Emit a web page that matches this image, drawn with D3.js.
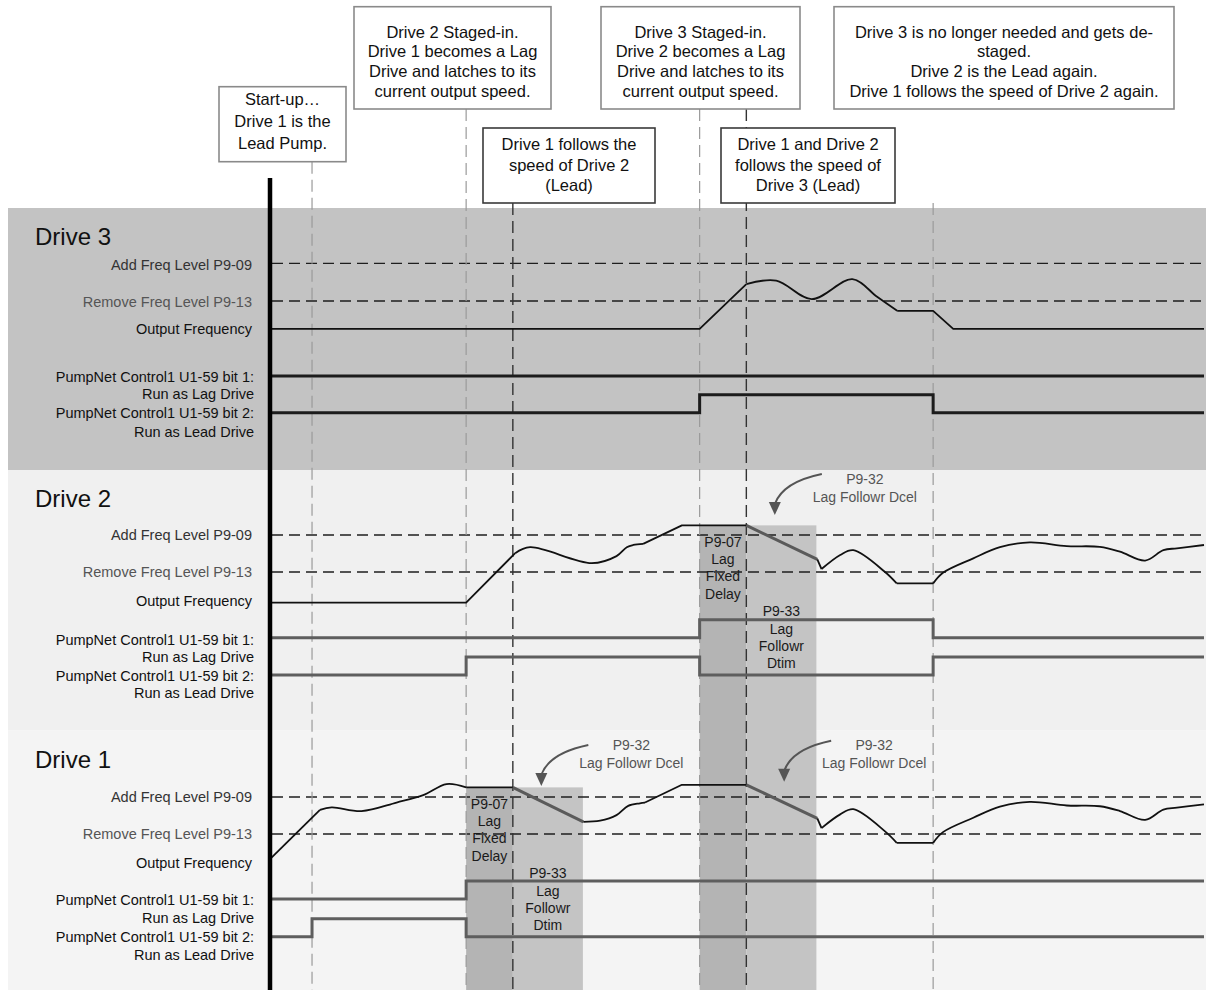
<!DOCTYPE html>
<html>
<head>
<meta charset="utf-8">
<script src="https://cdn.jsdelivr.net/npm/d3@7"></script>
<style>
  body { margin: 0; background: #fff; }
  text { font-family: "Liberation Sans", Arial, sans-serif; }
</style>
</head>
<body>
<div id="chart"></div>
<script>
// time axis in seconds, frequency in Hz
const ADD_HZ = 50, REMOVE_HZ = 40;
const FIXED_DELAY = 10, FOLLOW_DTIM = 15;

// event times and the note box each one hangs from
const eventTimes = [9, 42, 52, 92, 102, 142];
const eventDark = [false, false, true, false, true, false];

const noteLines = [
  ["Start-up\u2026", "Drive 1 is the", "Lead Pump."],
  ["Drive 2 Staged-in.", "Drive 1 becomes a Lag", "Drive and latches to its", "current output speed."],
  ["Drive 1 follows the", "speed of Drive 2", "(Lead)"],
  ["Drive 3 Staged-in.", "Drive 2 becomes a Lag", "Drive and latches to its", "current output speed."],
  ["Drive 3 is no longer needed and gets de-", "staged.", "Drive 2 is the Lead again.", "Drive 1 follows the speed of Drive 2 again."],
  ["Drive 1 and Drive 2", "follows the speed of", "Drive 3 (Lead)"]
];

const rowLabels = ["Add Freq Level P9-09", "Remove Freq Level P9-13", "Output Frequency",
  "PumpNet Control1 U1-59 bit 1:", "Run as Lag Drive", "PumpNet Control1 U1-59 bit 2:", "Run as Lead Drive"];

// output frequency, pieces of [t, Hz]
const drive3Freq = [
  { c: "line", pts: [[0, 32.6], [92, 32.6], [102, 44.5]] },
  { c: "smooth", pts: [[102, 44.5], [108.4, 45.4], [116.0, 40.5], [124.7, 45.8], [130.0, 41.1], [134.3, 37.4]] },
  { c: "line", pts: [[134.3, 37.4], [142, 37.4], [146.3, 32.6], [200, 32.6]] }
];
const drive2Freq = [
  { c: "line", pts: [[0, 31.7], [42, 31.7], [52.5, 45.1]] },
  { c: "smooth", pts: [[52.5, 45.1], [55.7, 46.7], [68.9, 42.4], [74.2, 44.3], [76.4, 46.7], [77.8, 47.3], [79.9, 47.6]] },
  { c: "line", pts: [[79.9, 47.6], [88.2, 52.6], [102, 52.6]] },
  { c: "dcel", pts: [[102, 52.6], [117.2, 43.4]] },
  { c: "line", pts: [[117.2, 43.4], [118.1, 40.8]] },
  { c: "smooth", pts: [[118.1, 40.8], [122.1, 44.6], [124.9, 45.9], [131.7, 40.0], [134.2, 36.9]] },
  { c: "line", pts: [[134.2, 36.9], [142, 36.9]] },
  { c: "smooth", pts: [[142, 36.9], [144.1, 39.8], [150.6, 43.7], [156.3, 46.7], [162.7, 48.0], [170.6, 47.0],
      [177.7, 46.8], [182.0, 45.5], [187.4, 43.1], [191.3, 45.9], [194.2, 46.4], [200, 47.3]] }
];
const drive1Freq = [
  { c: "line", pts: [[0, 33.2], [10.7, 46.5]] },
  { c: "smooth", pts: [[10.7, 46.5], [13.2, 47.2], [19.6, 46.2], [27.1, 48.5], [32.8, 50.5], [37.8, 53.5], [42, 52.6]] },
  { c: "line", pts: [[42, 52.6], [52, 52.6]] },
  { c: "dcel", pts: [[52, 52.6], [67.1, 43.3]] },
  { c: "smooth", pts: [[67.1, 43.3], [70.7, 43.6], [74.2, 45.1], [76.7, 47.6], [79.2, 48.3], [80.3, 48.5]] },
  { c: "line", pts: [[80.3, 48.5], [88.2, 53.3], [102, 53.3]] },
  { c: "dcel", pts: [[102, 53.3], [117.2, 44.2]] },
  { c: "line", pts: [[117.2, 44.2], [118.1, 41.6]] },
  { c: "smooth", pts: [[118.1, 41.6], [122.1, 45.3], [124.9, 46.7], [131.7, 40.7], [134.2, 37.6]] },
  { c: "line", pts: [[134.2, 37.6], [142, 37.6]] },
  { c: "smooth", pts: [[142, 37.6], [144.1, 40.5], [150.6, 44.4], [156.3, 47.4], [162.7, 48.7], [170.6, 47.7],
      [177.7, 47.5], [182.0, 46.2], [187.4, 43.8], [191.3, 46.6], [194.2, 47.1], [200, 48.0]] }
];

// status bits, [t, 0/1]
const drive3Bit1 = [[0, 0], [200, 0]];
const drive3Bit2 = [[0, 0], [92, 1], [142, 0], [200, 0]];
const drive2Bit1 = [[0, 0], [92, 1], [142, 0], [200, 0]];
const drive2Bit2 = [[0, 0], [42, 1], [92, 0], [142, 1], [200, 1]];
const drive1Bit1 = [[0, 0], [42, 1], [200, 1]];
const drive1Bit2 = [[0, 0], [9, 1], [42, 0], [200, 0]];

// lag delay windows: start time and latched frequency
const delayStarts = [{ drive: "Drive 1", t: 42, hz: 52.6 }, { drive: "Drive 2", t: 92, hz: 52.6 }];
// P9-32 arrow tips
const dcelTips = [{ drive: "Drive 1", t: 58.1, hz: 53.0 }, { drive: "Drive 1", t: 110.1, hz: 54.1 }, { drive: "Drive 2", t: 108.1, hz: 55.4 }];

const W = 1215, H = 990;
const x = d3.scaleLinear().domain([0, 200]).range([270, 1204]);

const panels = [
  { name: "Drive 3", top: 208, bottom: 470, bg: "#c3c3c3", addY: 263.3, removeY: 301, bit1Low: 376, bit2Low: 412.7,
    labelY: [265, 301.5, 329, 376.7, 394, 413, 431.7], titleY: 236, bitColor: "#1c1c1c",
    freq: drive3Freq, bit1: drive3Bit1, bit2: drive3Bit2 },
  { name: "Drive 2", top: 470, bottom: 730.5, bg: "#f0f0f0", addY: 535, removeY: 572, bit1Low: 637.7, bit2Low: 675,
    labelY: [535, 572, 600.7, 640, 656.7, 676, 693], titleY: 498, bitColor: "#5e5e5e", noteY: 479,
    freq: drive2Freq, bit1: drive2Bit1, bit2: drive2Bit2 },
  { name: "Drive 1", top: 730.5, bottom: 990, bg: "#f4f4f4", addY: 797, removeY: 834, bit1Low: 899, bit2Low: 936.7,
    labelY: [796.7, 834, 862.7, 900, 918, 937, 955], titleY: 759, bitColor: "#5e5e5e", noteY: 745,
    freq: drive1Freq, bit1: drive1Bit1, bit2: drive1Bit2 }
];
panels.forEach(p => {
  p.y = d3.scaleLinear().domain([REMOVE_HZ, ADD_HZ]).range([p.removeY, p.addY]);
});
const panelOf = name => panels.find(p => p.name === name);

// note box layout
const boxes = [
  { x0: 219, x1: 346, y0: 86.7, y1: 161.7, base: 104.5, lh: 22, dark: false },
  { x0: 354, x1: 551, y0: 6.7, y1: 109, base: 37.5, lh: 19.8, dark: false },
  { x0: 483, x1: 655, y0: 128, y1: 203, base: 150, lh: 20.5, dark: true },
  { x0: 601, x1: 800, y0: 6.7, y1: 109, base: 37.5, lh: 19.8, dark: false },
  { x0: 834, x1: 1174, y0: 6.7, y1: 109, base: 37.5, lh: 19.8, dark: false },
  { x0: 721, x1: 895, y0: 128, y1: 203, base: 150, lh: 20.5, dark: true }
];

const svg = d3.select("#chart").append("svg")
  .attr("width", W).attr("height", H);

// panel backgrounds
svg.selectAll(".panel").data(panels).enter().append("rect")
  .attr("x", 8).attr("y", d => d.top)
  .attr("width", 1206 - 8).attr("height", d => d.bottom - d.top)
  .attr("fill", d => d.bg);

// delay / follow windows
delayStarts.forEach(s => {
  const p = panelOf(s.drive);
  const top = p.y(s.hz);
  svg.append("rect").attr("x", x(s.t)).attr("y", top)
    .attr("width", x(s.t + FIXED_DELAY) - x(s.t)).attr("height", H - top).attr("fill", "#b4b4b4");
  svg.append("rect").attr("x", x(s.t + FIXED_DELAY)).attr("y", top)
    .attr("width", x(s.t + FIXED_DELAY + FOLLOW_DTIM) - x(s.t + FIXED_DELAY)).attr("height", H - top).attr("fill", "#c4c4c4");
});

// threshold dashed lines
panels.forEach(p => {
  [ADD_HZ, REMOVE_HZ].forEach(hz => {
    svg.append("line").attr("x1", 272).attr("x2", 1206)
      .attr("y1", p.y(hz)).attr("y2", p.y(hz))
      .attr("stroke", "#1e1e1e").attr("stroke-width", 1.3).attr("stroke-dasharray", "11,6");
  });
});

// event markers
eventTimes.forEach((t, i) => {
  svg.append("line").attr("x1", x(t)).attr("x2", x(t))
    .attr("y1", boxes[i].y1).attr("y2", H)
    .attr("stroke", eventDark[i] ? "#333" : "#9a9a9a")
    .attr("stroke-width", eventDark[i] ? 1.4 : 1.2)
    .attr("stroke-dasharray", "12,6");
});

// window captions
delayStarts.forEach(s => {
  const top = panelOf(s.drive).y(s.hz);
  const cx1 = (x(s.t) + x(s.t + FIXED_DELAY)) / 2;
  const cx2 = (x(s.t + FIXED_DELAY) + x(s.t + FIXED_DELAY + FOLLOW_DTIM)) / 2;
  ["P9-07", "Lag", "Fixed", "Delay"].forEach((t, i) => {
    svg.append("text").attr("x", cx1).attr("y", top + 16.5 + i * 17.3)
      .attr("text-anchor", "middle").attr("dominant-baseline", "central")
      .style("font-size", "14px").style("fill", "#1a1a1a").text(t);
  });
  ["P9-33", "Lag", "Followr", "Dtim"].forEach((t, i) => {
    svg.append("text").attr("x", cx2).attr("y", top + 86 + i * 17.3)
      .attr("text-anchor", "middle").attr("dominant-baseline", "central")
      .style("font-size", "14px").style("fill", "#1a1a1a").text(t);
  });
});

// output frequency curves
panels.forEach(p => {
  p.freq.forEach(piece => {
    const gen = d3.line().x(d => x(d[0])).y(d => p.y(d[1]))
      .curve(piece.c === "smooth" ? d3.curveCatmullRom.alpha(0.5) : d3.curveLinear);
    svg.append("path").attr("d", gen(piece.pts)).attr("fill", "none")
      .attr("stroke", piece.c === "dcel" ? "#5a5a5a" : "#111")
      .attr("stroke-width", piece.c === "dcel" ? 3 : 1.8)
      .attr("stroke-linejoin", "round");
  });
  // bits
  [[p.bit1, p.bit1Low], [p.bit2, p.bit2Low]].forEach(([bits, low]) => {
    const yb = d3.scaleLinear().domain([0, 1]).range([low, low - 18]);
    const gen = d3.line().x(d => x(d[0])).y(d => yb(d[1])).curve(d3.curveStepAfter);
    svg.append("path").attr("d", gen(bits)).attr("fill", "none")
      .attr("stroke", p.bitColor).attr("stroke-width", 3);
  });
  // labels
  svg.append("text").attr("x", 35).attr("y", p.titleY).attr("dominant-baseline", "central")
    .style("font-size", "24px").style("fill", "#111").text(p.name);
  rowLabels.forEach((t, i) => {
    svg.append("text").attr("x", i >= 3 ? 254 : 252).attr("y", p.labelY[i])
      .attr("text-anchor", "end").attr("dominant-baseline", "central")
      .style("font-size", "14.5px").style("fill", i === 0 ? "#333" : i === 1 ? "#555" : "#111").text(t);
  });
});

// P9-32 arrows
dcelTips.forEach(d => {
  const p = panelOf(d.drive);
  const tx = x(d.t), ty = p.y(d.hz);
  svg.append("path")
    .attr("d", `M${tx + 47},${ty - 41} Q${tx + 8},${ty - 33} ${tx},${ty - 11}`)
    .attr("fill", "none").attr("stroke", "#555").attr("stroke-width", 2);
  svg.append("path")
    .attr("d", `M${tx - 6},${ty - 13} L${tx + 6},${ty - 13} L${tx},${ty} Z`)
    .attr("fill", "#555");
  svg.append("text").attr("x", tx + 90).attr("y", p.noteY)
    .attr("text-anchor", "middle").attr("dominant-baseline", "central")
    .style("font-size", "14px").style("fill", "#555").text("P9-32");
  svg.append("text").attr("x", tx + 90).attr("y", p.noteY + 18)
    .attr("text-anchor", "middle").attr("dominant-baseline", "central")
    .style("font-size", "14px").style("fill", "#555").text("Lag Followr Dcel");
});

// main time axis
svg.append("line").attr("x1", x(0)).attr("x2", x(0)).attr("y1", 178).attr("y2", H)
  .attr("stroke", "#000").attr("stroke-width", 4.5);

// note boxes
boxes.forEach((b, i) => {
  svg.append("rect").attr("x", b.x0).attr("y", b.y0)
    .attr("width", b.x1 - b.x0).attr("height", b.y1 - b.y0)
    .attr("fill", "#fff").attr("stroke", b.dark ? "#3a3a3a" : "#8a8a8a").attr("stroke-width", 1.6);
  noteLines[i].forEach((t, j) => {
    svg.append("text").attr("x", (b.x0 + b.x1) / 2).attr("y", b.base + j * b.lh)
      .attr("text-anchor", "middle")
      .style("font-size", "16.5px").style("fill", "#111").text(t);
  });
});
</script>
</body>
</html>
